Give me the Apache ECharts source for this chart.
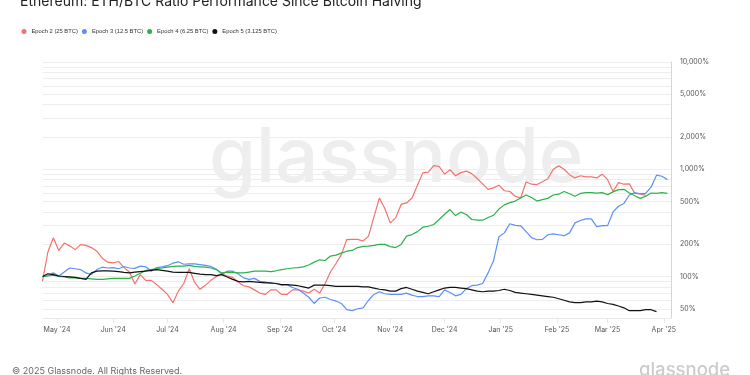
<!DOCTYPE html>
<html>
<head>
<meta charset="utf-8">
<script src="https://cdn.jsdelivr.net/npm/echarts@6/dist/echarts.min.js"></script>
<style>
  html, body { margin: 0; padding: 0; background: #fff; }
  #chart { width: 750px; height: 375px; }
</style>
</head>
<body>
<div id="chart"></div>
<script>
// sampled every 3 days, first sample = 2024-04-23
var startDate = [2024, 3, 23]
var stepDays = 3

var epoch2 = [90, 170, 230, 175, 205, 193, 178, 198, 195, 186, 172, 148, 136, 134, 138, 121, 110, 85, 104, 92,
  92, 84, 76, 68, 57, 73, 86, 118, 88, 76, 83, 92, 100, 106, 101, 98, 89, 82, 80, 75,
  70, 68, 75, 75, 68, 68, 75, 75, 73, 70, 76, 70, 86, 110, 132, 160, 221, 222, 222, 214,
  238, 360, 540, 430, 316, 352, 470, 485, 540, 710, 925, 940, 1080, 1060, 900, 990, 870, 930, 960, 910,
  820, 730, 650, 670, 710, 630, 620, 560, 540, 760, 725, 720, 765, 815, 1000, 1075, 1000, 890, 830, 870,
  850, 850, 830, 900, 800, 620, 750, 725, 730, 595, 590, 570]

var epoch3 = [100, 102, 108, 101, 110, 120, 118, 116, 108, 104, 116, 122, 120, 121, 118, 124, 120, 119, 125, 123,
  112, 121, 123, 126, 133, 137, 130, 131, 131, 129, 127, 124, 117, 105, 112, 112, 106, 97, 94, 96,
  90, 89, 86, 86, 83, 84, 79, 76, 70, 64, 56, 63, 64, 61, 59, 56, 49, 48, 50, 51,
  60, 68, 72, 69, 68, 68, 68, 70, 67, 65, 65, 66, 66, 65, 75, 71, 66, 68, 77, 82,
  83, 86, 108, 140, 235, 255, 310, 300, 297, 262, 230, 220, 222, 245, 250, 245, 240, 255, 316, 333,
  345, 345, 292, 298, 298, 400, 452, 480, 575, 605, 590, 595, 680, 880, 860, 800]

var epoch4 = [100, 101, 103, 100, 99, 97, 97, 96, 96, 95, 94, 94, 95, 96, 96, 96, 96, 101, 107, 114,
  116, 118, 120, 122, 124, 125, 125, 127, 124, 123, 122, 120, 116, 108, 110, 109, 108, 108, 110, 112,
  112, 112, 111, 113, 116, 118, 120, 121, 123, 128, 136, 143, 141, 155, 158, 165, 172, 175, 186, 191,
  192, 195, 199, 199, 190, 186, 199, 238, 246, 262, 288, 294, 305, 340, 380, 421, 370, 398, 378, 340,
  335, 335, 355, 372, 425, 465, 488, 505, 540, 575, 545, 505, 520, 535, 575, 585, 620, 590, 560, 595,
  605, 605, 600, 605, 580, 615, 645, 650, 600, 565, 535, 560, 600, 595, 605, 595]

var epoch5 = [100, 106, 104, 101, 100, 99, 98, 96, 94, 108, 112, 113, 113, 112, 111, 109, 108, 110, 111, 112,
  114, 116, 114, 112, 110, 109, 109, 109, 107, 105, 104, 104, 102, 104, 99, 94, 90, 89, 90, 89,
  88, 87, 87, 86, 84, 84, 83, 82, 80, 78, 83, 83, 83, 82, 81, 81, 81, 81, 81, 80,
  80, 78, 76, 75, 73, 73, 77, 79, 76, 73, 71, 69, 72, 75, 78, 79, 79, 78, 77, 75,
  73, 72, 73, 73, 74, 76, 74, 71, 70, 69, 68, 67, 66, 65, 64, 62, 60, 58, 57, 57,
  58, 58, 59, 58, 56, 55, 53, 51, 48, 48, 48, 49, 49, 47]

var seriesNames = ['Epoch 2 (25 BTC)', 'Epoch 3 (12.5 BTC)', 'Epoch 4 (6.25 BTC)', 'Epoch 5 (3.125 BTC)']
var seriesColors = ['#f6716c', '#5b8ff9', '#2bb34a', '#111111']

var monthStarts = ['2024-05-01', '2024-06-01', '2024-07-01', '2024-08-01', '2024-09-01', '2024-10-01',
  '2024-11-01', '2024-12-01', '2025-01-01', '2025-02-01', '2025-03-01', '2025-04-01']
var monthLabels = ["May '24", "Jun '24", "Jul '24", "Aug '24", "Sep '24", "Oct '24",
  "Nov '24", "Dec '24", "Jan '25", "Feb '25", "Mar '25", "Apr '25"]

var yLabelValues = [50, 100, 200, 500, 1000, 2000, 5000, 10000]
var yGridValues = [50, 60, 70, 80, 90, 100, 200, 300, 400, 500, 600, 700, 800, 900,
  1000, 2000, 3000, 4000, 5000, 6000, 7000, 8000, 9000, 10000]

function toTime(s) {
  var p = s.split('-')
  return new Date(+p[0], +p[1] - 1, +p[2]).getTime()
}

var t0 = new Date(startDate[0], startDate[1], startDate[2]).getTime()
function withDates(arr) {
  return arr.map(function (v, i) {
    return [t0 + i * stepDays * 86400000, v]
  })
}

var monthTimes = monthStarts.map(toTime)

var chart = echarts.init(document.getElementById('chart'))

var option = {
  animation: false,
  backgroundColor: '#fff',
  textStyle: { fontFamily: 'Inter, "Noto Sans", sans-serif' },
  title: {
    text: 'Ethereum: ETH/BTC Ratio Performance Since Bitcoin Halving',
    left: 20,
    top: -5,
    padding: 0,
    textStyle: { fontSize: 14, fontWeight: 'normal', color: '#222', fontFamily: 'Inter' }
  },
  legend: {
    data: seriesNames,
    left: 21.5,
    top: 28.5,
    icon: 'circle',
    itemWidth: 5,
    itemHeight: 5,
    itemGap: 4,
    padding: 0,
    textStyle: { fontSize: 5.8, color: '#333', fontFamily: '"Liberation Sans", Arial, sans-serif' }
  },
  graphic: [
    {
      type: 'text',
      left: 209,
      top: 121,
      z: -10,
      silent: true,
      style: { text: 'glassnode', font: '500 76px Inter', fill: '#eeeeee' }
    },
    {
      type: 'text',
      left: 12,
      top: 367,
      silent: true,
      style: { text: '© 2025 Glassnode. All Rights Reserved.', font: '9px Inter', fill: '#666' }
    },
    {
      type: 'text',
      left: 639,
      top: 361,
      silent: true,
      style: { text: 'glassnode', font: '500 18.5px Inter', fill: '#cccccc' }
    }
  ],
  grid: { left: 42.5, right: 79, top: 62, bottom: 57 },
  xAxis: {
    type: 'value',
    min: t0,
    max: toTime('2025-04-05'),
    axisLine: { show: true, lineStyle: { color: '#e8e8e8' } },
    axisTick: { show: true, length: 5, lineStyle: { color: '#e8e8e8' }, customValues: monthTimes },
    splitLine: { show: false },
    axisLabel: {
      customValues: monthTimes,
      fontSize: 7,
      color: '#555',
      margin: 8,
      formatter: function (val) {
        var i = monthTimes.indexOf(val)
        return i >= 0 ? monthLabels[i] : ''
      }
    }
  },
  yAxis: {
    type: 'log',
    logBase: 10,
    min: 41,
    max: 10000,
    position: 'right',
    axisLine: { show: true, lineStyle: { color: '#f6c9c9', width: 1 } },
    axisTick: { show: false, customValues: yGridValues },
    splitLine: { show: true, lineStyle: { color: '#eeeeee', width: 1 } },
    axisLabel: {
      customValues: yLabelValues,
      fontSize: 7,
      color: '#555',
      margin: 9,
      formatter: function (v) {
        return Math.round(v).toString().replace(/\B(?=(\d{3})+(?!\d))/g, ',') + '%'
      }
    }
  },
  series: [epoch2, epoch3, epoch4, epoch5].map(function (arr, k) {
    return {
      name: seriesNames[k],
      type: 'line',
      data: withDates(arr),
      showSymbol: false,
      symbol: 'circle',
      color: seriesColors[k],
      lineStyle: { width: 1.2, color: seriesColors[k] }
    }
  })
}

chart.setOption(option)
</script>
</body>
</html>
